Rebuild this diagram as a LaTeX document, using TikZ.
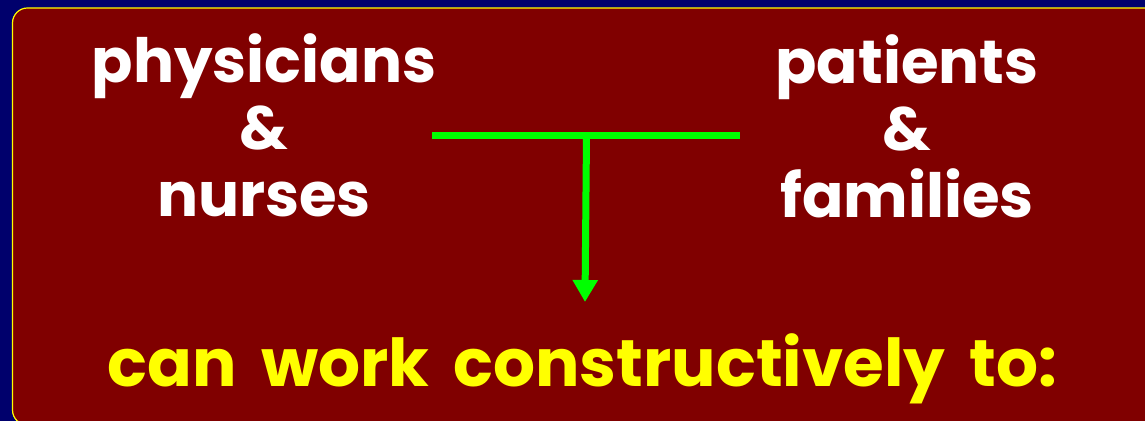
\documentclass[tikz,border=0pt]{standalone}
\usepackage{fontspec}
\setmainfont{Poppins}
\usetikzlibrary{arrows.meta}
\definecolor{slidenavy}{RGB}{0,0,108}
\definecolor{slidemaroon}{RGB}{128,0,0}
\definecolor{slidegreen}{RGB}{0,255,0}
\definecolor{slideyellow}{RGB}{255,255,0}
\newcommand\widewords{\spaceskip=12pt plus 2pt\relax}

\begin{document}
\begin{tikzpicture}[x=.5pt,y=.5pt,
  party/.style={text=white,inner sep=0pt,align=center,font=\fontsize{30.5}{33.5}\selectfont\bfseries},
  outcome/.style={text=slideyellow,inner sep=0pt,font=\fontsize{33}{40}\selectfont\bfseries},
  link/.style={slidegreen,line width=3.5pt}]
  \fill[slidenavy] (0,0) rectangle (1145,421);
  \useasboundingbox (0,0) rectangle (1145,421);
  \draw[fill=slidemaroon,draw=slideyellow,line width=.6pt,rounded corners=7.5pt] (12.5,-4) rectangle (1170,413);
  % the two groups
  \node[party,anchor=base] (phys) at (264,204) {physicians\\\&\\nurses};
  \node[party,anchor=base] (pats) at (907,203.5) {patients\\\&\\families};
  \node[outcome,anchor=base] (goal) at (582.5,34) {\widewords can work constructively to:};
  % T connector
  \coordinate (jl) at (432,285.5);
  \coordinate (jr) at (740,285.5);
  \coordinate (tj) at (586.5,285.5);
  \coordinate (tip) at (585,119);
  \draw[link] (jl) -- (jr);
  \draw[link,-{Triangle[length=11pt,width=12pt]}] (tj) -- (tip);
\end{tikzpicture}
\end{document}
